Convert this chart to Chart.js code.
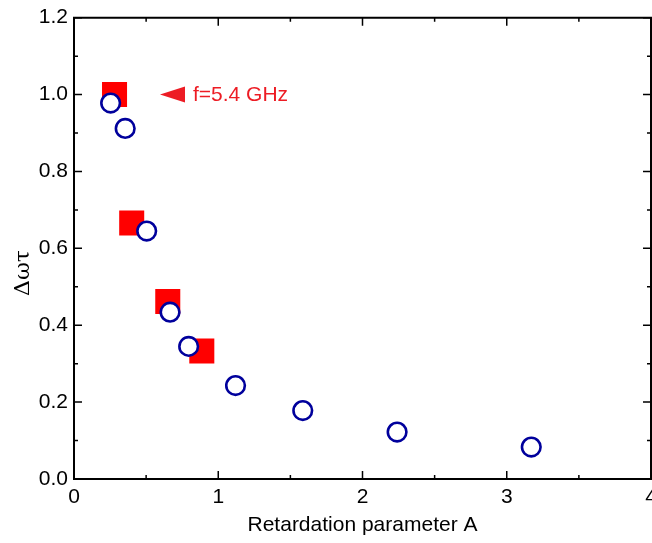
<!DOCTYPE html>
<html>
<head>
<meta charset="utf-8">
<script src="https://cdn.jsdelivr.net/npm/chart.js@4"></script>
<style>
  html, body { margin: 0; padding: 0; background: #fff; overflow: hidden; }
  #wrap { width: 700px; height: 543px; }
</style>
</head>
<body>
<div id="wrap"><canvas id="c" width="700" height="543"></canvas></div>
<script>
// ---- data ----
const circleA   = [0.254, 0.355, 0.504, 0.666, 0.795, 1.12, 1.586, 2.24, 3.17];
const circleDwt = [0.978, 0.912, 0.645, 0.434, 0.345, 0.243, 0.178, 0.122, 0.083];
const squareA   = [0.281, 0.40, 0.65, 0.886];
const squareDwt = [1.0, 0.666, 0.462, 0.333];
const xTicks = [0, 1, 2, 3, 4];
const yTicks = [0.0, 0.2, 0.4, 0.6, 0.8, 1.0, 1.2];
const annotationPos = [0.596, 1.0];
const annotationText = 'f=5.4 GHz';
const xTitle = 'Retardation parameter A';
const yTitle = 'Δωτ';

const FONT = 'Liberation Sans, Arial, sans-serif';

const framePlugin = {
  id: 'frame',
  afterDatasetsDraw(chart) {
    const {ctx, chartArea: a, scales: {x, y}} = chart;
    ctx.save();
    ctx.strokeStyle = '#000';
    ctx.lineWidth = 2;
    ctx.beginPath();
    ctx.rect(a.left, a.top, a.right - a.left, a.bottom - a.top);
    ctx.stroke();
    ctx.lineWidth = 1.5;
    const maj = 8, mnr = 4;
    ctx.beginPath();
    for (let k = 0; k <= 8; k++) {
      const v = k / 2;
      const px = x.getPixelForValue(v);
      const L = (k % 2 === 0) ? maj : mnr;
      ctx.moveTo(px, a.bottom); ctx.lineTo(px, a.bottom - L);
      ctx.moveTo(px, a.top); ctx.lineTo(px, a.top + L);
    }
    for (let i = 0; i <= 12; i++) {
      const py = y.getPixelForValue(i / 10);
      const L = (i % 2 === 0) ? maj : mnr;
      ctx.moveTo(a.left, py); ctx.lineTo(a.left + L, py);
      ctx.moveTo(a.right, py); ctx.lineTo(a.right - L, py);
    }
    ctx.stroke();
    ctx.restore();
  },
  afterDraw(chart) {
    const {ctx, scales: {x, y}} = chart;
    ctx.save();
    const tx = x.getPixelForValue(annotationPos[0]);
    const ty = y.getPixelForValue(annotationPos[1]);
    ctx.fillStyle = '#ed1c24';
    ctx.beginPath();
    ctx.moveTo(tx, ty);
    ctx.lineTo(tx + 25, ty - 8);
    ctx.lineTo(tx + 25, ty + 8);
    ctx.closePath();
    ctx.fill();
    ctx.font = '21px ' + FONT;
    ctx.textBaseline = 'middle';
    ctx.textAlign = 'left';
    ctx.fillText(annotationText, tx + 33, ty + 1);
    // y-axis title, stretched along its length to match the reference
    ctx.fillStyle = '#000';
    ctx.font = '21px "DejaVu Serif", "Liberation Serif", serif';
    ctx.translate(24, 273);
    ctx.rotate(-Math.PI / 2);
    const w = ctx.measureText(yTitle).width;
    ctx.scale(46 / w, 1);
    ctx.textAlign = 'center';
    ctx.textBaseline = 'middle';
    ctx.fillText(yTitle, 0, 0);
    ctx.restore();
  }
};

new Chart(document.getElementById('c'), {
  type: 'scatter',
  data: {
    datasets: [
      {
        label: 'circles',
        data: circleA.map((v, i) => ({x: v, y: circleDwt[i]})),
        pointStyle: 'circle',
        pointRadius: 9.3,
        pointBorderWidth: 2.6,
        borderColor: '#00009c',
        backgroundColor: '#ffffff',
        pointBackgroundColor: '#ffffff',
        pointBorderColor: '#00009c',
        order: 0
      },
      {
        label: 'squares',
        data: squareA.map((v, i) => ({x: v, y: squareDwt[i]})),
        pointStyle: 'rect',
        pointRadius: 17.7,
        pointBorderWidth: 0,
        backgroundColor: '#ff0000',
        pointBackgroundColor: '#ff0000',
        borderColor: '#ff0000',
        order: 1
      }
    ]
  },
  options: {
    responsive: false,
    animation: false,
    events: [],
    layout: { padding: { left: 0, right: 49, top: 14, bottom: 0 } },
    plugins: { legend: { display: false }, tooltip: { enabled: false } },
    scales: {
      x: {
        type: 'linear',
        min: 0, max: 4,
        afterBuildTicks: s => { s.ticks = xTicks.map(v => ({value: v})); },
        afterFit: s => { s.height = 64; s.paddingLeft = 0; s.paddingRight = 0; },
        grid: { display: false, drawTicks: false },
        border: { display: false },
        ticks: {
          color: '#000', padding: 6,
          font: { family: FONT, size: 21 },
          callback: v => String(v),
          maxRotation: 0
        },
        title: {
          display: true, text: xTitle, color: '#000',
          font: { family: FONT, size: 21 },
          padding: { top: 0, bottom: 5 }
        }
      },
      y: {
        type: 'linear',
        min: 0, max: 1.2,
        afterBuildTicks: s => { s.ticks = yTicks.map(v => ({value: v})); },
        afterFit: s => { s.width = 74; s.paddingTop = 0; s.paddingBottom = 0; },
        grid: { display: false, drawTicks: false },
        border: { display: false },
        ticks: {
          color: '#000', padding: 6,
          font: { family: FONT, size: 21 },
          callback: v => Number(v).toFixed(1)
        }
      }
    }
  },
  plugins: [framePlugin]
});
</script>
</body>
</html>
